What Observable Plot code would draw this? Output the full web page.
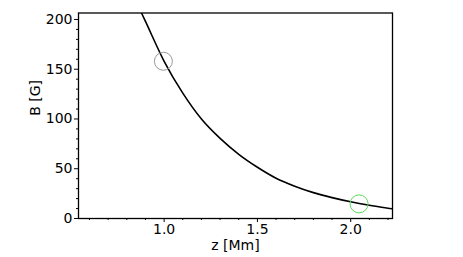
<!DOCTYPE html>
<html>
<head>
<meta charset="utf-8">
<script src="https://cdn.jsdelivr.net/npm/d3@7"></script>
<script src="https://cdn.jsdelivr.net/npm/@observablehq/plot@0.6"></script>
<style>
  html, body { margin: 0; padding: 0; background: #fff; }
  #chart svg { display: block; }
</style>
</head>
<body>
<div id="chart"></div>
<script>
// Curve: height z [Mm] vs field strength B [G]
const zValues = [0.88, 0.9, 1.0, 1.1, 1.2, 1.3, 1.4, 1.5, 1.6, 1.7, 1.8, 1.9, 2.0, 2.1, 2.2, 2.224];
const bValues = [206, 198, 158, 126, 100, 80.5, 64.5, 51.5, 40.5, 32.5, 26, 21, 16.8, 13.3, 10.3, 9.8];

// Highlighted points (open circles)
const markerZ = [0.996, 2.045];
const markerB = [158, 14.7];
const markerColor = ["#9a9a9a", "#5ed85e"];

// Ticks
const xMajorTicks = [1.0, 1.5, 2.0];
const xMinorTicks = [0.6, 0.7, 0.8, 0.9, 1.1, 1.2, 1.3, 1.4, 1.6, 1.7, 1.8, 1.9, 2.1, 2.2];
const yMajorTicks = [0, 50, 100, 150, 200];
const yMinorTicks = [10, 20, 30, 40, 60, 70, 80, 90, 110, 120, 130, 140, 160, 170, 180, 190];

const xLabel = "z [Mm]";
const yLabel = "B [G]";

const curve = zValues.map((z, i) => ({z, b: bValues[i]}));
const markers = markerZ.map((z, i) => ({z, b: markerB[i], c: markerColor[i]}));

const chart = Plot.plot({
  width: 463,
  height: 257,
  marginLeft: 78,
  marginRight: 71,
  marginTop: 12.5,
  marginBottom: 39,
  style: {fontFamily: "DejaVu Sans", fontSize: "14px", color: "black", background: "white"},
  x: {domain: [0.541, 2.224]},
  y: {domain: [0, 206.5]},
  marks: [
    Plot.line(curve, {x: "z", y: "b", stroke: "black", strokeWidth: 1.6, curve: "monotone-x", clip: true}),
    Plot.dot(markers, {x: "z", y: "b", r: 9, stroke: "c", fill: "none", strokeWidth: 1}),
    Plot.frame({stroke: "black", strokeWidth: 1.3}),
    Plot.axisX(xMajorTicks, {tickSize: 4, tickPadding: 2, tickFormat: d => d.toFixed(1), label: null, fontSize: 14}),
    Plot.axisX(xMinorTicks, {tickSize: 2, tickFormat: () => "", label: null}),
    Plot.axisY(yMajorTicks, {tickSize: 4, tickPadding: 2, label: null, fontSize: 14}),
    Plot.axisY(yMinorTicks, {tickSize: 2, tickFormat: () => "", label: null}),
    Plot.text([xLabel], {frameAnchor: "bottom", dy: 31, text: d => d, fontSize: 14}),
    Plot.text([yLabel], {frameAnchor: "left", dx: -43, rotate: -90, text: d => d, fontSize: 14})
  ]
});
document.getElementById("chart").appendChild(chart);
</script>
</body>
</html>
